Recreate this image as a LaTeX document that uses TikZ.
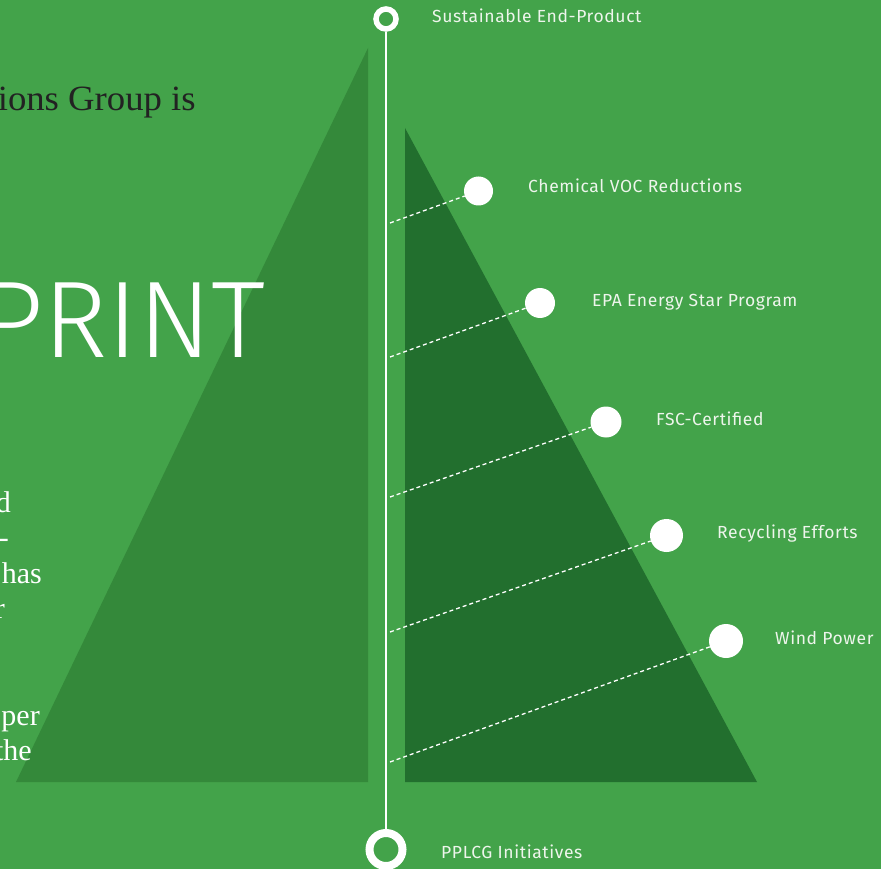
\documentclass[tikz,border=0pt]{standalone}
\usepackage{fontspec}
\setmainfont{Liberation Serif}
\newfontfamily\labelfont{Fira Sans}[LetterSpace=3.5]
\newfontfamily\thinfont{Fira Sans Light}
\newfontfamily\wideserif{Liberation Serif}[FakeStretch=1.035]
\definecolor{bg}{HTML}{43A34A}
\definecolor{triA}{HTML}{34893A}
\definecolor{triB}{HTML}{226F2E}
\definecolor{lblwhite}{HTML}{EEF5EC}
\definecolor{darktext}{HTML}{222222}
\begin{document}
\begin{tikzpicture}[x=1pt,y=-1pt,
  lbl/.style={font=\labelfont\fontsize{17.5}{20}\selectfont, text=lblwhite, anchor=base west, inner sep=0pt},
  body/.style={font=\fontsize{30}{35}\selectfont, text=white, anchor=base east, inner sep=0pt},
  dot/.style={circle, fill=white, inner sep=0pt},
  ring/.style={circle, draw=white, fill=bg, inner sep=0pt},
  conn/.style={draw=white, dash pattern=on 4pt off 3pt, line width=1.3pt}]
\useasboundingbox (0,0) rectangle (881,869);
\clip (0,0) rectangle (881,869);
\fill[bg] (0,0) rectangle (881,869);
% triangles
\fill[triA] (368,48) -- (368,782) -- (16,782) -- cycle;
\fill[triB] (405,128) -- (405,782) -- (757,782) -- cycle;
% left text fragments
\node[font=\wideserif\fontsize{35.5}{40}\selectfont, text=darktext, anchor=base east, inner sep=0pt] (t1) at (196,111) {ions Group is};
\node[font=\thinfont\fontsize{109}{120}\selectfont, text=white, anchor=base east, inner sep=0pt] (print) at (266,357) {PRINT};
\node[body] (b1) at (11,512) {d};
\node[body] (b2) at (9,547.5) {-};
\node[body] (b3) at (42,583) {has};
\node[body] (b4) at (5,618.5) {r};
\node[body] (b5) at (40,725) {per};
\node[body] (b6) at (32,760.5) {the};
% timeline
\node[ring, line width=5.5pt, minimum size=20pt] (top) at (386,19) {};
\node[ring, line width=8pt, minimum size=33pt] (bot) at (386,849.5) {};
\draw[white, line width=2pt] (top) -- (bot);
\node[lbl] (ltop) at (432,23) {Sustainable End-Product};
\node[lbl] (lbot) at (441,858) {PPLCG Initiatives};
% dots
\node[dot, minimum size=29pt] (d1) at (478.5,191) {};
\node[dot, minimum size=30pt] (d2) at (540,303) {};
\node[dot, minimum size=31pt] (d3) at (606,422) {};
\node[dot, minimum size=33pt] (d4) at (666.5,535.5) {};
\node[dot, minimum size=34pt] (d5) at (726,641) {};
\coordinate (s1) at (390,223);
\coordinate (s2) at (390,357);
\coordinate (s3) at (390,497);
\coordinate (s4) at (390,632);
\coordinate (s5) at (390,762);
\draw[conn] (s1) -- (d1);
\draw[conn] (s2) -- (d2);
\draw[conn] (s3) -- (d3);
\draw[conn] (s4) -- (d4);
\draw[conn] (s5) -- (d5);
\node[lbl] (l1) at (528,193) {Chemical VOC Reductions};
\node[lbl] (l2) at (592,306) {EPA Energy Star Program};
\node[lbl] (l3) at (656,425) {FSC-Certified};
\node[lbl] (l4) at (717,538) {Recycling Efforts};
\node[lbl] (l5) at (775,644) {Wind Power};
\end{tikzpicture}
\end{document}
